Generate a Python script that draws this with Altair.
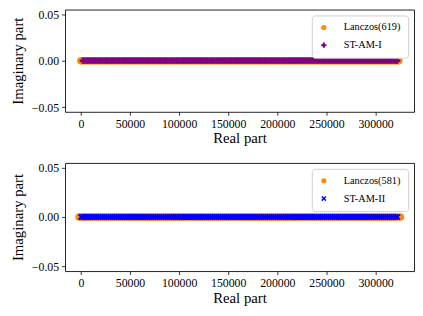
import altair as alt
import pandas as pd

# Real parts of the computed eigenvalues, in thousands (imaginary parts are all zero)
lanczos619_re_k = [0, 1.9, 3.8, 6.0, 7.9, 10.1, 12.0, 14.1, 16.0, 18.2, 20.1, 22.0, 24.2, 26.1, 28.0,
    30.2, 32.1, 34.0, 36.1, 38.1, 40.0, 42.2, 44.1, 46.0, 48.2, 50.1, 52.0, 54.1, 56.1, 58.0, 60.2,
    62.1, 64.0, 66.2, 68.1, 70.0, 72.1, 74.1, 76.0, 78.2, 80.1, 82.0, 84.2, 86.1, 88.0, 90.1, 92.1,
    94.0, 96.2, 98.1, 100.0, 102.2, 104.1, 106.0, 108.1, 110.1, 112.0, 114.2, 116.1, 118.0, 120.2,
    122.1, 124.0, 126.1, 128.1, 130.0, 132.2, 134.1, 136.0, 138.2, 140.1, 142.0, 144.1, 146.1, 148.0,
    150.2, 152.1, 154.0, 156.2, 158.1, 160.0, 162.1, 164.1, 166.0, 168.2, 170.1, 172.0, 174.2, 176.1,
    178.0, 180.1, 182.1, 184.0, 186.2, 188.1, 190.0, 192.2, 194.1, 196.0, 198.1, 200.1, 202.0, 204.2,
    206.1, 208.0, 210.2, 212.1, 214.0, 216.1, 218.1, 220.0, 222.2, 224.1, 226.0, 228.2, 230.1, 232.0,
    234.1, 236.1, 238.0, 240.2, 242.1, 244.0, 246.2, 248.1, 250.0, 252.1, 254.1, 256.0, 258.2, 260.1,
    262.0, 264.2, 266.1, 268.0, 270.1, 272.1, 274.0, 276.2, 278.1, 280.0, 282.2, 284.1, 286.0, 288.1,
    290.1, 292.0, 294.2, 296.1, 298.0, 300.2, 302.1, 304.0, 306.1, 308.1, 310.0, 312.2, 314.1, 316.0,
    318.2, 320.1, 322.0, 323.6]
# ST-AM-I reproduces the interior Lanczos eigenvalues
stam1_re_k = lanczos619_re_k[1:-1]

lanczos581_re_k = [-1.8, 0.3, 2.2, 4.2, 6.1, 8.0, 10.2, 12.1, 14.0, 16.2, 18.1, 20.0, 22.1, 24.1,
    26.0, 28.2, 30.1, 32.0, 34.2, 36.1, 38.0, 40.1, 42.1, 44.0, 46.2, 48.1, 50.0, 52.2, 54.1, 56.0,
    58.1, 60.1, 62.0, 64.2, 66.1, 68.0, 70.2, 72.1, 74.0, 76.1, 78.1, 80.0, 82.2, 84.1, 86.0, 88.2,
    90.1, 92.0, 94.1, 96.1, 98.0, 100.2, 102.1, 104.0, 106.2, 108.1, 110.0, 112.1, 114.1, 116.0,
    118.2, 120.1, 122.0, 124.2, 126.1, 128.0, 130.1, 132.1, 134.0, 136.2, 138.1, 140.0, 142.2, 144.1,
    146.0, 148.1, 150.1, 152.0, 154.2, 156.1, 158.0, 160.2, 162.1, 164.0, 166.1, 168.1, 170.0, 172.2,
    174.1, 176.0, 178.2, 180.1, 182.0, 184.1, 186.1, 188.0, 190.2, 192.1, 194.0, 196.2, 198.1, 200.0,
    202.1, 204.1, 206.0, 208.2, 210.1, 212.0, 214.2, 216.1, 218.0, 220.1, 222.1, 224.0, 226.2, 228.1,
    230.0, 232.2, 234.1, 236.0, 238.1, 240.1, 242.0, 244.2, 246.1, 248.0, 250.2, 252.1, 254.0, 256.1,
    258.1, 260.0, 262.2, 264.1, 266.0, 268.2, 270.1, 272.0, 274.1, 276.1, 278.0, 280.2, 282.1, 284.0,
    286.2, 288.1, 290.0, 292.1, 294.1, 296.0, 298.2, 300.1, 302.0, 304.2, 306.1, 308.0, 310.1, 312.1,
    314.0, 316.2, 318.1, 320.0, 322.2, 325.4]
# ST-AM-II reproduces the interior Lanczos eigenvalues
stam2_re_k = lanczos581_re_k[1:-1]

x_ticks = [0, 50000, 100000, 150000, 200000, 250000, 300000]
y_ticks = [-0.05, 0.0, 0.05]

FONT = "Liberation Serif"
X_SHAPE = "M-1,-0.6L-0.6,-1L0,-0.4L0.6,-1L1,-0.6L0.4,0L1,0.6L0.6,1L0,0.4L-0.6,1L-1,0.6L-0.4,0Z"


def panel(first_k, first_name, second_k, second_name, second_color, second_shape, sizes, height):
    df = pd.concat([
        pd.DataFrame({"re": [v * 1000 for v in first_k], "im": [0.0] * len(first_k),
                      "series": first_name}),
        pd.DataFrame({"re": [v * 1000 for v in second_k], "im": [0.0] * len(second_k),
                      "series": second_name}),
    ], ignore_index=True)
    base = alt.Chart(df).encode(
        x=alt.X("re:Q", title="Real part",
                scale=alt.Scale(domain=[-16150, 339150], nice=False, zero=False),
                axis=alt.Axis(values=x_ticks, format="d")),
        y=alt.Y("im:Q", title="Imaginary part",
                scale=alt.Scale(domain=[-0.055, 0.055], nice=False, zero=False),
                axis=alt.Axis(values=y_ticks, format=".2f")),
        color=alt.Color("series:N", title=None,
                        scale=alt.Scale(domain=[first_name, second_name],
                                        range=["#FF8C00", second_color])),
        shape=alt.Shape("series:N", title=None,
                        scale=alt.Scale(domain=[first_name, second_name],
                                        range=["circle", second_shape])),
    )
    l1 = base.transform_filter(alt.datum.series == first_name).mark_point(
        filled=True, opacity=1, size=sizes[0])
    l2 = base.transform_filter(alt.datum.series == second_name).mark_point(
        filled=True, opacity=1, size=sizes[1])
    return alt.layer(l1, l2).properties(width=355, height=height)


top = panel(lanczos619_re_k, "Lanczos(619)", stam1_re_k, "ST-AM-I", "#800080", "cross", [58, 40], 104)
bottom = panel(lanczos581_re_k, "Lanczos(581)", stam2_re_k, "ST-AM-II", "#0000FF", X_SHAPE, [58, 44], 110)

chart = alt.vconcat(top, bottom, spacing=15).resolve_scale(
    color="independent", shape="independent"
).properties(
    padding={"top": -3, "left": 2, "right": 0, "bottom": 0}
).configure(
    font=FONT
).configure_view(
    stroke="#222222", strokeWidth=1
).configure_axis(
    grid=False, domain=False, tickColor="#000000", tickSize=3.5, tickWidth=0.8,
    labelFont=FONT, labelFontSize=12, labelColor="#000000", labelPadding=3,
    titleFont=FONT, titleFontSize=15, titleFontWeight="normal", titleColor="#000000",
).configure_axisX(titlePadding=2).configure_axisY(titlePadding=6).configure_legend(
    orient="top-right", offset=6, padding=7, labelFont=FONT, labelFontSize=10.5,
    labelColor="#000000", strokeColor="#d0d0d0", fillColor="#ffffff", cornerRadius=3,
    symbolSize=28, rowPadding=7, labelOffset=15, symbolStrokeWidth=0,
)

chart.save("out.html", embed_options={"renderer": "svg", "actions": False})
